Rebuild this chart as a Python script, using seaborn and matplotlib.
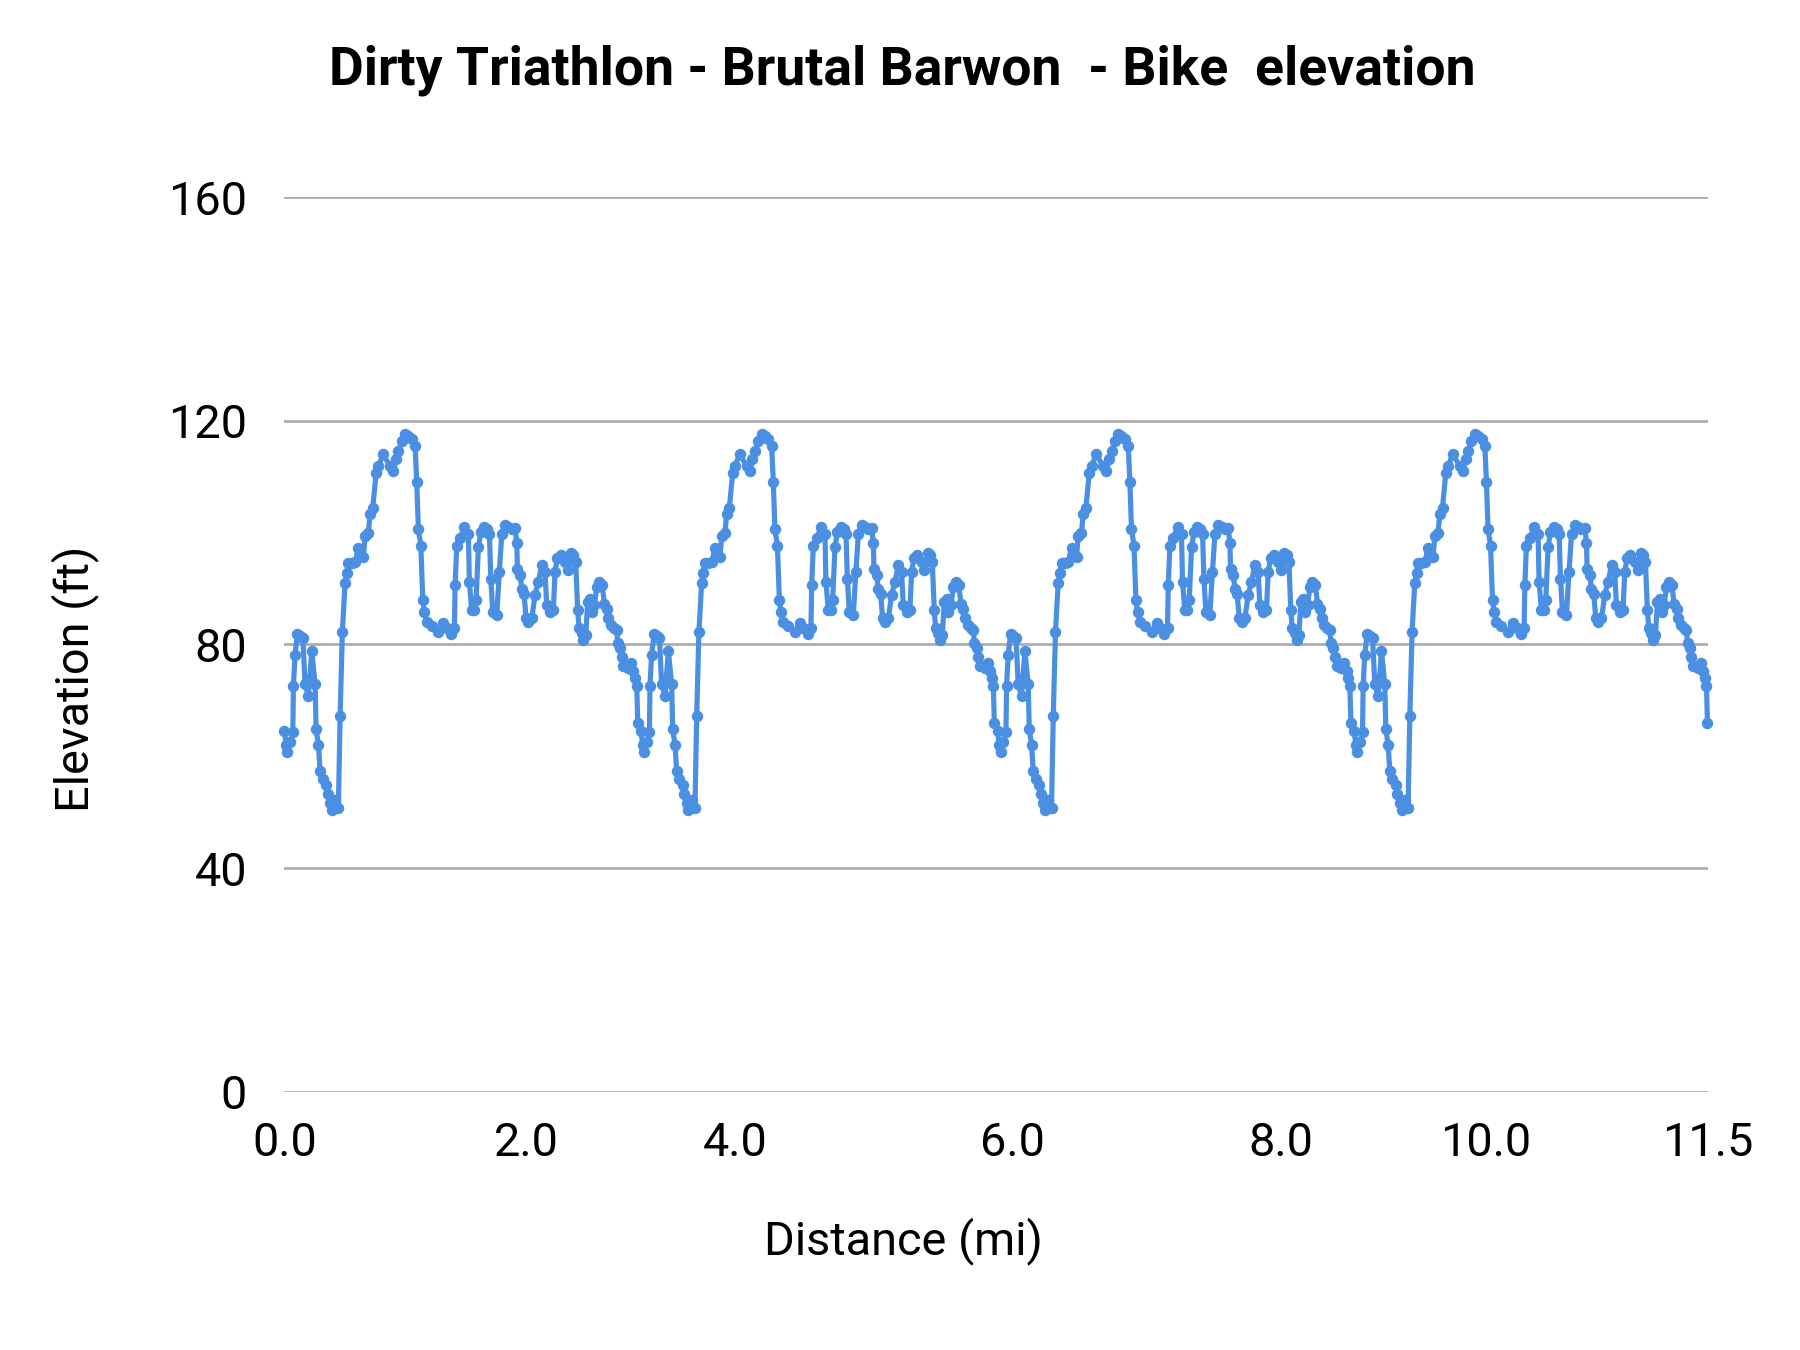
import numpy as np
import pandas as pd
import matplotlib.pyplot as plt
import seaborn as sns

# one lap of the bike course (miles from lap start, feet)
lap_dist = [0.000, 0.014, 0.024, 0.046, 0.068, 0.073, 0.086, 0.105, 0.127, 0.149,
            0.167, 0.194, 0.221, 0.248, 0.256, 0.275, 0.288, 0.310, 0.337, 0.350,
            0.369, 0.383, 0.409, 0.436, 0.450, 0.468, 0.490, 0.504, 0.517, 0.544,
            0.571, 0.598, 0.611, 0.638, 0.652, 0.678, 0.692, 0.714, 0.741, 0.759,
            0.797, 0.854, 0.880, 0.900, 0.921, 0.948, 0.975, 1.001, 1.029, 1.056,
            1.069, 1.082, 1.102, 1.118, 1.131, 1.150, 1.190, 1.244, 1.284, 1.312,
            1.346, 1.373, 1.379, 1.392, 1.419, 1.454, 1.486, 1.494, 1.513, 1.532,
            1.548, 1.567, 1.586, 1.613, 1.639, 1.656, 1.667, 1.683, 1.715, 1.736,
            1.756, 1.782, 1.809, 1.836, 1.863, 1.877, 1.882, 1.904, 1.917, 1.936,
            1.952, 1.971, 1.998, 2.025, 2.051, 2.079, 2.105, 2.119, 2.146, 2.172,
            2.186, 2.205, 2.232, 2.267, 2.289, 2.315, 2.334, 2.353, 2.369, 2.380,
            2.402, 2.415, 2.434, 2.450, 2.469, 2.483, 2.504, 2.523, 2.542, 2.568,
            2.584, 2.604, 2.617, 2.638, 2.665, 2.684, 2.693, 2.711, 2.725, 2.738,
            2.778, 2.800, 2.819, 2.832, 2.846, 2.854]
lap_elev = [64.5, 62.1, 60.7, 62.5, 64.3, 72.6, 78.2, 81.8, 81.6, 81.2,
            72.9, 70.8, 78.8, 72.9, 64.8, 62.1, 57.4, 56.0, 54.8, 53.2,
            51.6, 50.4, 52.2, 50.7, 67.2, 82.2, 91.0, 92.7, 94.6, 94.5,
            94.7, 97.3, 96.1, 95.7, 99.4, 100.0, 103.3, 104.5, 110.7, 111.9,
            114.0, 111.9, 111.0, 113.1, 114.6, 116.4, 117.6, 117.3, 116.7, 115.5,
            109.0, 100.6, 97.7, 87.9, 85.9, 84.0, 83.3, 82.2, 83.9, 82.9,
            81.8, 83.0, 90.6, 97.7, 99.0, 101.0, 99.8, 91.2, 86.1, 86.1,
            87.9, 97.4, 100.1, 101.0, 100.7, 99.8, 91.8, 85.8, 85.3, 93.0,
            99.8, 101.4, 101.0, 100.7, 100.8, 98.2, 93.5, 92.4, 90.0, 89.0,
            84.7, 84.1, 84.7, 88.9, 91.2, 94.2, 93.0, 87.0, 85.8, 86.1,
            93.0, 95.4, 96.0, 94.8, 93.3, 96.3, 96.0, 94.8, 86.1, 82.9,
            82.0, 80.8, 81.7, 87.6, 88.2, 85.8, 87.0, 90.3, 91.2, 90.6,
            87.3, 86.4, 84.7, 83.5, 82.9, 82.6, 80.2, 79.3, 77.8, 76.1,
            75.8, 76.7, 75.2, 74.0, 72.6, 66.0]
# the course is ridden four times
lap_starts = [0.0, 2.88, 5.76, 8.64]

y_ticks = [0, 40, 80, 120, 160]
# sheet-style category axis: labels sit at the sample where that distance falls
x_ticks = [0.0, 1.951, 3.642, 5.884, 8.044, 9.702, 11.5]
x_labels = ['0.0', '2.0', '4.0', '6.0', '8.0', '10.0', '11.5']

rows = []
for start in lap_starts:
    for d, e in zip(lap_dist, lap_elev):
        rows.append((round(start + d, 3), e))
df = pd.DataFrame(rows, columns=['distance', 'elevation'])

sns.set_theme(style='white')
plt.rcParams['font.family'] = ['Roboto', 'DejaVu Sans']
plt.rcParams['text.color'] = 'black'

fig = plt.figure(figsize=(12, 9), dpi=150)
ax = fig.add_axes([0.158, 0.1913, 0.791, 0.6626])

sns.lineplot(data=df, x='distance', y='elevation', ax=ax, color='#4a8fe2',
             linewidth=2.5, marker='o', markersize=5.5, markeredgewidth=0,
             estimator=None, sort=False)
for line in ax.lines:
    line.set_clip_on(False)

ax.set_xlim(0, 11.5)
ax.set_ylim(0, 160)
ax.set_yticks(y_ticks)
ax.set_xticks(x_ticks)
ax.set_xticklabels(x_labels)
ax.set_axisbelow(True)
ax.grid(axis='y', color='#ababab', linewidth=1.3)
ax.grid(axis='x', visible=False)
for sp in ax.spines.values():
    sp.set_visible(False)
ax.tick_params(axis='both', length=0, labelsize=22.5, colors='black')
ax.tick_params(axis='y', pad=18)
ax.tick_params(axis='x', pad=14)
ax.set_xlabel('')
ax.set_ylabel('')

fig.text(0.5015, 1 - 70 / 1350, 'Dirty Triathlon - Brutal Barwon  - Bike  elevation',
         ha='center', va='center', fontsize=25.7, fontweight='bold', color='black')
fig.text(0.502, 1 - 1241 / 1350, 'Distance (mi)', ha='center', va='center',
         fontsize=22.5, color='black')
fig.text(0.0417, 1 - 679 / 1350, 'Elevation (ft)', ha='center', va='center',
         fontsize=22.5, rotation=90, color='black')

fig.savefig('out.png', dpi=150)
